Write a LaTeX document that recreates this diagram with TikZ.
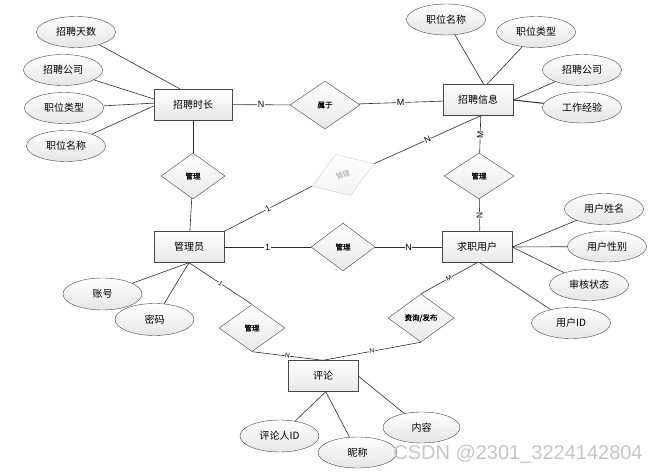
\documentclass[tikz,border=0pt]{standalone}
\usepackage{fontspec}
\setmainfont{Liberation Sans}
\newfontfamily\cjk{Noto Sans CJK SC}
\newfontfamily\cjkb[FakeBold=1.2]{Noto Sans CJK SC}
\usetikzlibrary{shapes.geometric}
\tikzset{
  ent/.style={draw=gray!55!black, rectangle, top color=white, bottom color=gray!18, minimum width=70pt, minimum height=31pt, inner sep=0pt, font=\cjk\fontsize{10}{12}\selectfont},
  attr/.style={draw=gray!55!black, ellipse, top color=white, bottom color=gray!20, minimum width=79pt, minimum height=31pt, inner sep=0pt, font=\cjk\fontsize{10}{12}\selectfont},
  rel/.style={draw=gray!55!black, diamond, top color=white, bottom color=gray!18, minimum width=64pt, minimum height=46pt, inner sep=0pt, font=\cjkb\fontsize{7.5}{8}\selectfont},
  ghostrel/.style={draw=gray!35, diamond, top color=white, bottom color=gray!10, minimum width=66pt, minimum height=44pt, inner sep=0pt, text=gray!75, font=\cjk\fontsize{7}{8}\selectfont},
  lab/.style={fill=white, inner sep=0.6pt, font=\fontsize{9}{10}\selectfont},
  slab/.style={fill=white, inner sep=0.4pt, sloped, font=\fontsize{6.5}{7}\selectfont},
  conn/.style={draw=gray!35!black, line width=0.6pt},
  wmark/.style={text=gray!45, font=\fontsize{20}{22}\selectfont, inner sep=0pt}
}
\begin{document}
\begin{tikzpicture}[x=1pt,y=-1pt]
\useasboundingbox (0,0) rectangle (658,473);
% entities
\node[ent, minimum width=78pt] (zsc) at (193,104.5) {招聘时长};
\node[ent] (zxx) at (478,100) {招聘信息};
\node[ent] (gly) at (189,247) {管理员};
\node[ent] (qz) at (477,247) {求职用户};
\node[ent] (pl) at (323,376) {评论};
% relations
\node[rel, minimum width=70pt, minimum height=48pt] (sy) at (325,105) {属于};
\node[rel] (gl1) at (193,176) {管理};
\node[ghostrel, rotate=20] (ghost) at (343,175) {管理};
\node[rel, minimum height=48pt] (gl2) at (343,247) {管理};
\node[rel, minimum width=70pt] (gl3) at (479,176) {管理};
\node[rel, minimum width=66pt, minimum height=47pt] (gl4) at (252,328) {管理};
\node[rel, minimum width=66pt, minimum height=48pt] (zf) at (421,318) {资询/发布};
% attributes of 招聘时长
\node[attr] (a1) at (76,32) {招聘天数};
\node[attr] (a2) at (63,70) {招聘公司};
\node[attr] (a3) at (64,108) {职位类型};
\node[attr] (a4) at (66,146) {职位名称};
% attributes of 招聘信息
\node[attr] (b1) at (446,19.5) {职位名称};
\node[attr] (b2) at (536,32) {职位类型};
\node[attr] (b3) at (582,70) {招聘公司};
\node[attr] (b4) at (582,107.5) {工作经验};
% attributes of 求职用户
\node[attr] (c1) at (604,209) {用户姓名};
\node[attr] (c2) at (607,246.5) {用户性别};
\node[attr] (c3) at (589,285) {审核状态};
\node[attr] (c4) at (571,323) {用户ID};
% attributes of 管理员
\node[attr, minimum height=32pt] (d1) at (102.5,294) {账号};
\node[attr, minimum height=32pt] (d2) at (154.5,319.5) {密码};
% attributes of 评论
\node[attr, minimum height=32pt] (e1) at (279.5,436) {评论人ID};
\node[attr] (e2) at (357.5,452.5) {昵称};
\node[attr, minimum width=77pt] (e3) at (421.5,427.5) {内容};
% attribute connectors
\draw[conn] (a1) -- (zsc.130);
\draw[conn] (a2) -- (zsc.172);
\draw[conn] (a3) -- (zsc.178);
\draw[conn] (a4) -- (zsc.182);
\draw[conn] (b1) -- (zxx.70);
\draw[conn] (b2) -- (zxx.60);
\draw[conn] (b3) -- (zxx.east);
\draw[conn, line width=1pt] (b4) -- (zxx.east);
\draw[conn] (c1) -- (qz.east);
\draw[conn] (c2) -- (qz.east);
\draw[conn] (c3) -- (qz.east);
\draw[conn] (c4) -- (qz.-80);
\draw[conn] (d1) -- (gly.south);
\draw[conn] (d2) -- (gly.south);
\draw[conn] (e1) -- (pl.-80);
\draw[conn] (e2) -- (pl.-80);
\draw[conn] (e3) -- (pl.east);
% relation connectors
\draw[conn] (zsc) -- node[lab]{N} (sy);
\draw[conn] (sy) -- node[lab]{M} (zxx);
\draw[conn] (zsc) -- (gl1);
\draw[conn] (gl1) -- (gly);
\draw[conn] (gly.north east) -- node[slab, font=\fontsize{8.5}{9}\selectfont]{1} (ghost.west);
\draw[conn] (ghost.east) -- node[slab, font=\fontsize{8.5}{9}\selectfont]{N} (zxx.-80);
\draw[conn] (zxx.-80) -- node[slab, font=\fontsize{8.5}{9}\selectfont]{M} (gl3);
\draw[conn] (gl3) -- node[slab, font=\fontsize{8.5}{9}\selectfont]{N} (qz.80);
\draw[conn, line width=1pt] (gly) -- node[lab]{1} (gl2);
\draw[conn, line width=1pt] (gl2) -- node[lab]{N} (qz);
\draw[conn] (gly.south) -- node[slab]{1} (gl4.north);
\draw[conn] (gl4.south) -- node[slab]{N} (pl.north);
\draw[conn] (qz.south) -- node[slab]{M} (zf.north);
\draw[conn] (zf.south) -- node[slab]{N} (pl.north);
% watermark
\node[wmark] (wm) at (518,454) {CSDN @2301\_3224142804};
\end{tikzpicture}
\end{document}
